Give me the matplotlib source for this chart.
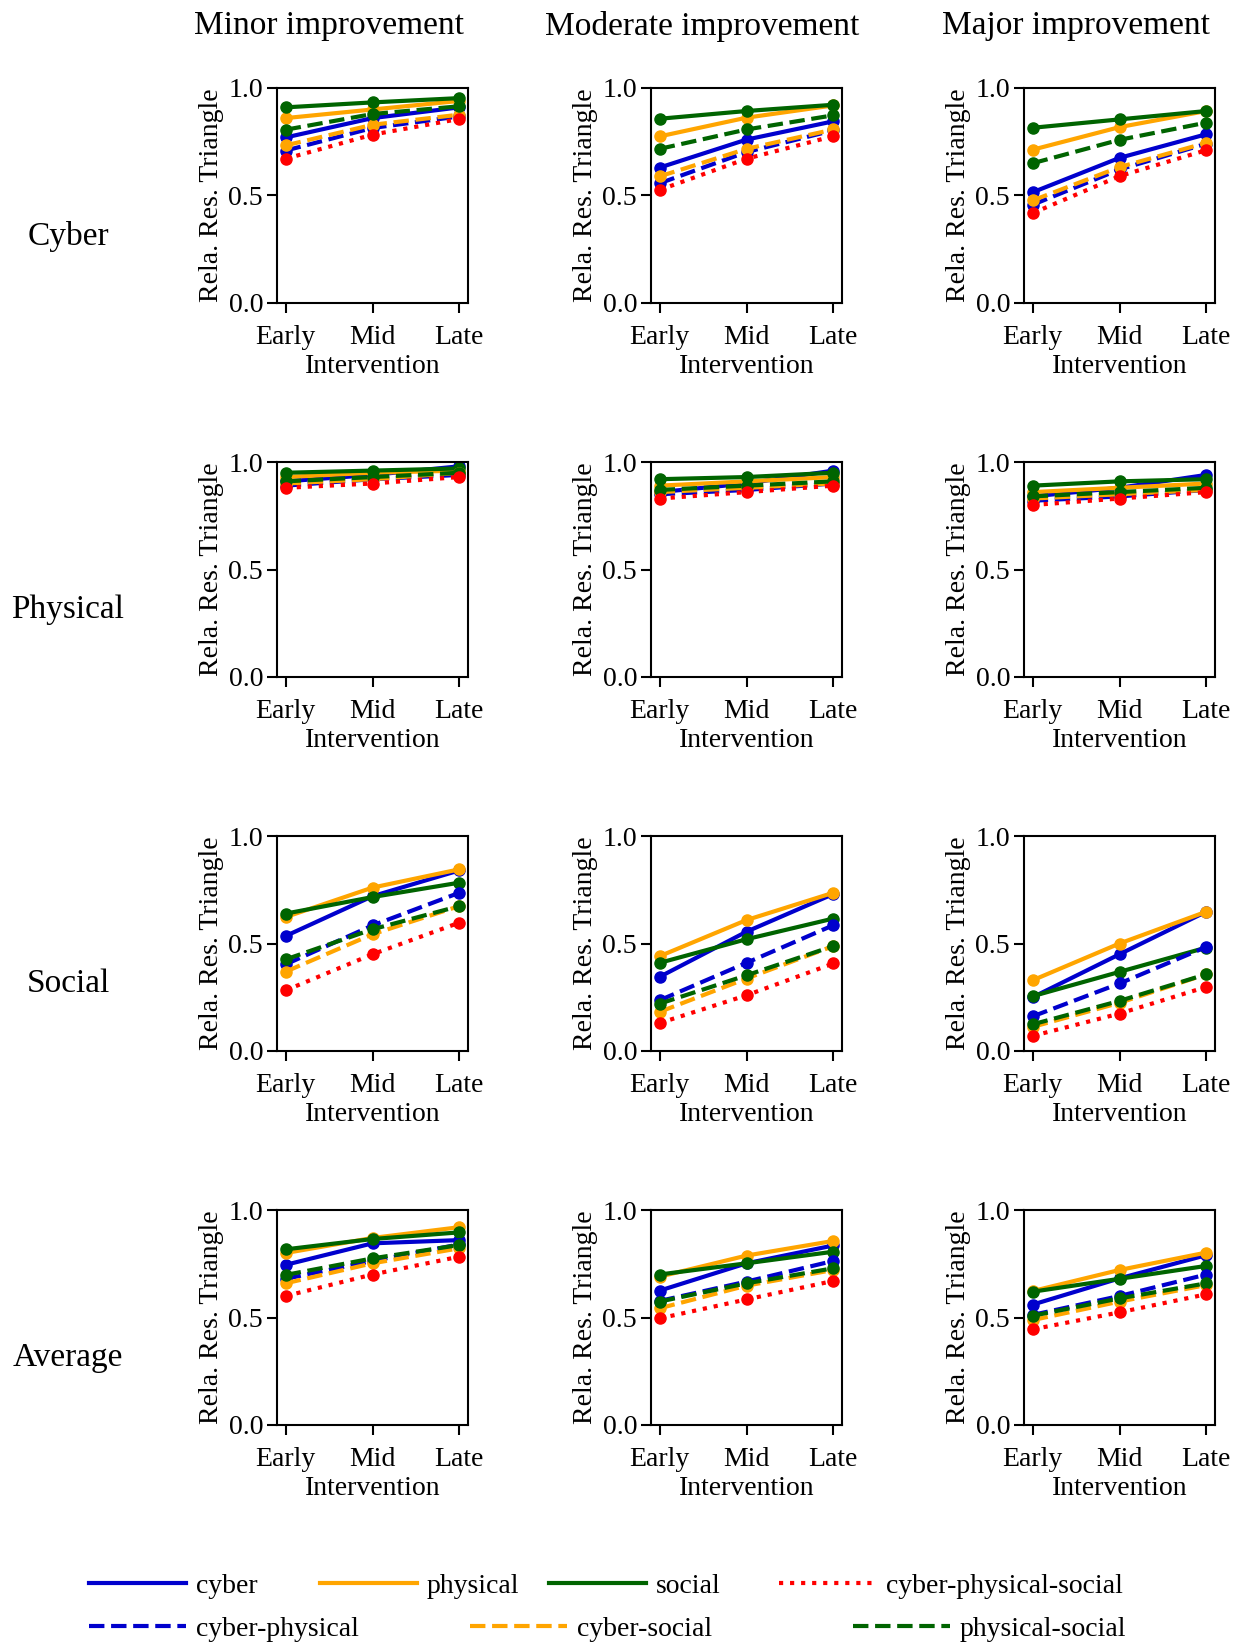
import matplotlib
matplotlib.use("Agg")
import matplotlib.pyplot as plt
from matplotlib.lines import Line2D

plt.rcParams['font.family'] = ['Liberation Serif', 'DejaVu Serif']

stages = ["Early", "Mid", "Late"]
col_titles = ["Minor improvement", "Moderate improvement", "Major improvement"]
row_titles = ["Cyber", "Physical", "Social", "Average"]

# each series: [row][column][stage]; rows = Cyber, Physical, Social, Average
cyber = [
    [[0.77, 0.86, 0.91], [0.63, 0.76, 0.845], [0.515, 0.675, 0.785]],
    [[0.91, 0.94, 0.98], [0.86, 0.90, 0.96], [0.84, 0.88, 0.94]],
    [[0.535, 0.72, 0.84], [0.345, 0.555, 0.73], [0.25, 0.45, 0.648]],
    [[0.745, 0.845, 0.86], [0.625, 0.752, 0.835], [0.56, 0.682, 0.79]],
]
physical = [
    [[0.86, 0.90, 0.94], [0.775, 0.862, 0.919], [0.713, 0.818, 0.893]],
    [[0.93, 0.95, 0.96], [0.89, 0.91, 0.93], [0.86, 0.88, 0.90]],
    [[0.623, 0.76, 0.845], [0.441, 0.609, 0.736], [0.329, 0.50, 0.648]],
    [[0.80, 0.87, 0.92], [0.69, 0.788, 0.856], [0.623, 0.721, 0.802]],
]
social = [
    [[0.91, 0.933, 0.953], [0.857, 0.893, 0.922], [0.815, 0.854, 0.893]],
    [[0.95, 0.96, 0.97], [0.92, 0.93, 0.95], [0.89, 0.91, 0.92]],
    [[0.639, 0.716, 0.783], [0.41, 0.52, 0.616], [0.255, 0.368, 0.481]],
    [[0.817, 0.865, 0.896], [0.70, 0.752, 0.806], [0.62, 0.68, 0.74]],
]
cyber_physical = [
    [[0.709, 0.814, 0.868], [0.557, 0.702, 0.803], [0.457, 0.621, 0.741]],
    [[0.89, 0.92, 0.94], [0.85, 0.87, 0.90], [0.82, 0.84, 0.87]],
    [[0.403, 0.584, 0.736], [0.236, 0.41, 0.585], [0.161, 0.314, 0.484]],
    [[0.68, 0.763, 0.84], [0.577, 0.667, 0.763], [0.512, 0.60, 0.70]],
]
cyber_social = [
    [[0.733, 0.829, 0.876], [0.589, 0.717, 0.807], [0.477, 0.632, 0.745]],
    [[0.90, 0.92, 0.95], [0.86, 0.88, 0.90], [0.83, 0.85, 0.87]],
    [[0.369, 0.543, 0.674], [0.182, 0.337, 0.488], [0.112, 0.224, 0.357]],
    [[0.659, 0.752, 0.822], [0.543, 0.648, 0.721], [0.488, 0.574, 0.651]],
]
physical_social = [
    [[0.806, 0.879, 0.915], [0.717, 0.807, 0.873], [0.65, 0.759, 0.839]],
    [[0.91, 0.93, 0.95], [0.87, 0.89, 0.91], [0.84, 0.86, 0.88]],
    [[0.426, 0.566, 0.674], [0.22, 0.352, 0.488], [0.124, 0.233, 0.357]],
    [[0.698, 0.775, 0.837], [0.574, 0.659, 0.729], [0.508, 0.589, 0.659]],
]
cyber_physical_social = [
    [[0.671, 0.783, 0.856], [0.526, 0.671, 0.776], [0.418, 0.59, 0.711]],
    [[0.88, 0.90, 0.93], [0.83, 0.86, 0.89], [0.80, 0.83, 0.86]],
    [[0.282, 0.45, 0.597], [0.13, 0.259, 0.407], [0.07, 0.174, 0.298]],
    [[0.60, 0.70, 0.783], [0.496, 0.584, 0.67], [0.445, 0.524, 0.608]],
]

BLUE, ORANGE, GREEN, RED = "#0000cd", "#ffa500", "#006400", "#ff0000"
series = [
    ("cyber", cyber, BLUE, "-"),
    ("physical", physical, ORANGE, "-"),
    ("social", social, GREEN, "-"),
    ("cyber-physical", cyber_physical, BLUE, "--"),
    ("cyber-social", cyber_social, ORANGE, "--"),
    ("physical-social", physical_social, GREEN, "--"),
    ("cyber-physical-social", cyber_physical_social, RED, ":"),
]

W, H = 1244, 1645
fig = plt.figure(figsize=(W / 100, H / 100), dpi=100)

ax_left = [277, 651, 1024]
ax_top = [88, 462, 836, 1210]
ax_w, ax_h = 191, 215

for r, top in enumerate(ax_top):
    for c, left in enumerate(ax_left):
        ax = fig.add_axes([left / W, 1 - (top + ax_h) / H, ax_w / W, ax_h / H])
        for name, data, color, ls in series:
            ax.plot(range(3), data[r][c], color=color, linestyle=ls,
                    linewidth=3, marker="o", markersize=8)
        ax.set_ylim(0, 1.0)
        ax.set_yticks([0.0, 0.5, 1.0])
        ax.set_xticks(range(3))
        ax.set_xticklabels(stages)
        ax.tick_params(labelsize=20, length=7, width=1.5)
        ax.tick_params(axis="x", pad=9)
        ax.tick_params(axis="y", pad=3)
        for sp in ax.spines.values():
            sp.set_linewidth(1.5)
        ax.set_ylabel("Rela. Res. Triangle", fontsize=20, labelpad=3)
        ax.set_xlabel("Intervention", fontsize=20, labelpad=3)

for c, left in enumerate(ax_left):
    fig.text((left + ax_w / 2 - 44) / W, 1 - 26 / H, col_titles[c],
             fontsize=24, ha="center", va="center")
for r, top in enumerate(ax_top):
    fig.text(68 / W, 1 - (top + 148) / H, row_titles[r],
             fontsize=24, ha="center", va="center")

# legend: two rows, entries placed at their own positions
leg_x = [89, 320, 549, 779, 89, 470, 853]
leg_y = [1586, 1586, 1586, 1586, 1629, 1629, 1629]
leg_order = [0, 1, 2, 6, 3, 4, 5]
for k, idx in enumerate(leg_order):
    name, data, color, ls = series[idx]
    h = Line2D([], [], color=color, linestyle=ls, linewidth=3)
    fig.legend(handles=[h], labels=[name], loc="center left",
               bbox_to_anchor=(leg_x[k] / W, 1 - leg_y[k] / H),
               frameon=False, fontsize=20, borderpad=0, borderaxespad=0,
               handlelength=3.5, handletextpad=0.35)

fig.savefig("out.png", dpi=100)
